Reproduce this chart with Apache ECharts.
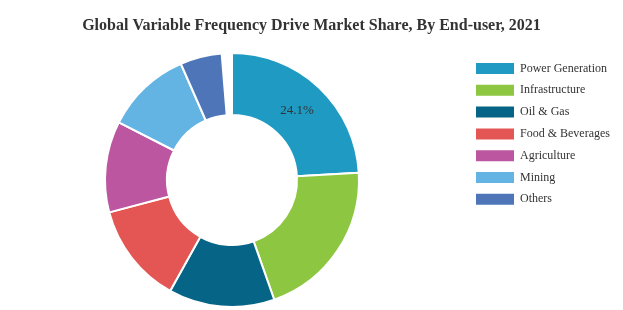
<!DOCTYPE html>
<html>
<head>
<meta charset="utf-8">
<script src="https://cdn.jsdelivr.net/npm/echarts@6/dist/echarts.min.js"></script>
<style>
html,body{margin:0;padding:0;background:#fff;}
#chart{width:623px;height:310px;}
</style>
</head>
<body>
<div id="chart"></div>
<script>
var categories = ['Power Generation', 'Infrastructure', 'Oil & Gas', 'Food & Beverages', 'Agriculture', 'Mining', 'Others'];
var shares = [24.1, 20.5, 13.5, 12.8, 11.6, 10.9, 5.3];
var colors = ['#1e9ac3', '#8dc641', '#066487', '#e35654', '#bc56a0', '#63b4e3', '#4e75b8'];
var labelled = ['Power Generation'];

var total = shares.reduce(function (a, b) { return a + b; }, 0);
var chart = echarts.init(document.getElementById('chart'));
chart.setOption({
  animation: false,
  title: {
    text: 'Global Variable Frequency Drive Market Share, By End-user, 2021',
    left: 'center',
    top: 13,
    textStyle: { fontFamily: 'Liberation Serif', fontSize: 16, fontWeight: 'bold', color: '#333' }
  },
  legend: {
    orient: 'vertical',
    left: 474,
    top: 61,
    padding: 0,
    itemWidth: 40,
    itemHeight: 13,
    itemGap: 6.8,
    icon: 'rect',
    data: categories,
    textStyle: { fontFamily: 'Liberation Serif', fontSize: 12, color: '#333' }
  },
  series: [{
    type: 'pie',
    center: [232, 180],
    radius: [65, 127],
    startAngle: 90,
    endAngle: 90 - total * 3.6,
    clockwise: true,
    itemStyle: { borderColor: '#fff', borderWidth: 2 },
    label: {
      position: 'inside',
      fontFamily: 'Liberation Serif',
      fontSize: 13,
      color: '#333',
      offset: [-3, 3],
      formatter: function (p) { return labelled.indexOf(p.name) >= 0 ? p.value + '%' : ''; }
    },
    labelLine: { show: false },
    emphasis: { disabled: true },
    data: categories.map(function (c, i) {
      return { name: c, value: shares[i], itemStyle: { color: colors[i] } };
    })
  }]
});
</script>
</body>
</html>
